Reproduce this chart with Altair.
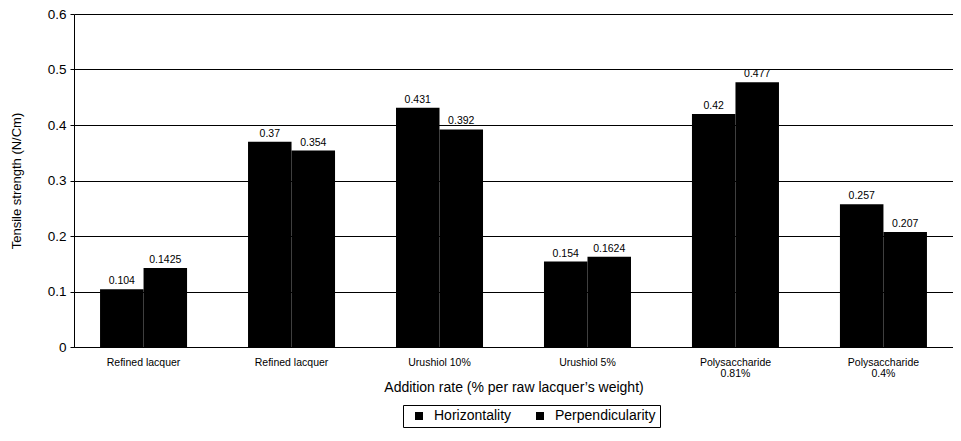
import altair as alt
import pandas as pd

# ---- data ----
categories = ["Refined lacquer", "Refined lacquer", "Urushiol 10%", "Urushiol 5%",
              "Polysaccharide~0.81%", "Polysaccharide~0.4%"]
series = ["Horizontality", "Perpendicularity"]
horizontality = [0.104, 0.37, 0.431, 0.154, 0.42, 0.257]
perpendicularity = [0.1425, 0.354, 0.392, 0.1624, 0.477, 0.207]
labels_h = ["0.104", "0.37", "0.431", "0.154", "0.42", "0.257"]
labels_p = ["0.1425", "0.354", "0.392", "0.1624", "0.477", "0.207"]
y_ticks = [0, 0.1, 0.2, 0.3, 0.4, 0.5, 0.6]

keys = [f"{i}|{c}" for i, c in enumerate(categories)]
rows = []
for k, h, p, lh, lp in zip(keys, horizontality, perpendicularity, labels_h, labels_p):
    rows.append({"cat": k, "series": series[0], "value": h, "label": lh})
    rows.append({"cat": k, "series": series[1], "value": p, "label": lp})
df = pd.DataFrame(rows)

FONT = "Liberation Sans"

x_enc = alt.X(
    "cat:N", sort=keys,
    scale=alt.Scale(paddingInner=0.412, paddingOuter=0.176),
    axis=alt.Axis(
        title="Addition rate (% per raw lacquer\u2019s weight)",
        labelExpr="split(split(datum.label, '|')[1], '~')",
        labelAngle=0, labelFontSize=10.5, labelLineHeight=11, labelPadding=10,
        labelColor="black", ticks=False, domainColor="black", domainWidth=1,
        titleFontSize=14, titleFontWeight="normal", titleColor="black",
        titleY=33, titleBaseline="top", grid=False,
    ),
)
xo_enc = alt.XOffset("series:N", sort=series, scale=alt.Scale(paddingInner=0, paddingOuter=0))
y_enc = alt.Y(
    "value:Q",
    scale=alt.Scale(domain=[0, 0.6], nice=False),
    axis=alt.Axis(
        title="Tensile strength (N/Cm)", values=y_ticks, format=".1~f",
        labelFontSize=13.5, labelColor="black", labelPadding=4, tickSize=4,
        tickColor="black", domainColor="black", grid=True, gridColor="black",
        gridOpacity=1, gridWidth=1, titleFontSize=13, titleFontWeight="normal",
        titleColor="black", titleX=-58, titleBaseline="middle",
    ),
)

bars = alt.Chart(df).mark_bar(stroke=None).encode(
    x=x_enc, xOffset=xo_enc, y=y_enc,
    color=alt.Color(
        "series:N", sort=series,
        scale=alt.Scale(domain=series, range=["#000000", "#000000"]),
        legend=alt.Legend(
            title=None, orient="none", legendX=329, legendY=391, direction="horizontal",
            symbolType="square", symbolSize=64, symbolStrokeWidth=0,
            labelFontSize=14, labelColor="black", labelOffset=8, columnPadding=16,
            padding=4, strokeColor="black", symbolOffset=5,
        ),
    ),
)

texts = alt.Chart(df).mark_text(
    baseline="bottom", dy=-3, fontSize=10.5, color="black", font=FONT
).encode(x=x_enc, xOffset=xo_enc, y=y_enc, text="label:N")

chart = alt.layer(bars, texts).properties(
    width=879, height=333,
    autosize=alt.AutoSizeParams(type="none"),
    padding={"left": 66, "top": 6, "right": 0, "bottom": 86},
).configure(font=FONT).configure_view(stroke=None).configure_axis(
    labelFont=FONT, titleFont=FONT
).configure_legend(labelFont=FONT)

chart.save("out.html", embed_options={"renderer": "svg", "actions": False})
